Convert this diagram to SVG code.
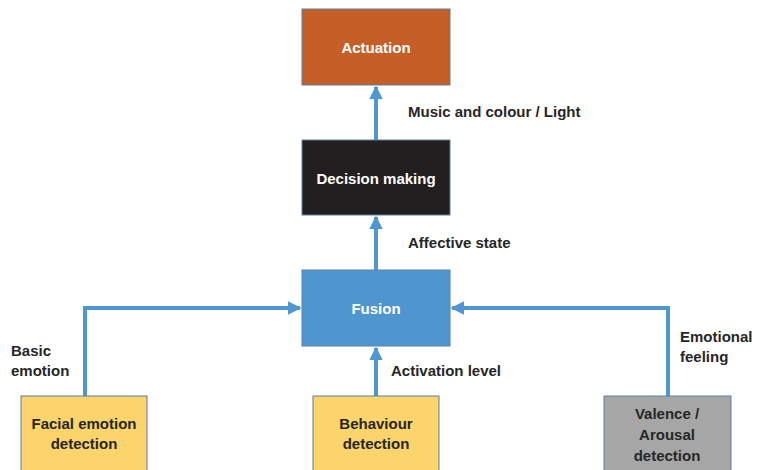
<svg xmlns="http://www.w3.org/2000/svg" width="757" height="470" viewBox="0 0 757 470">
<style>
.box{stroke:#5a7fa6;stroke-width:1}
.nt{font-family:"Liberation Sans",Arial,sans-serif;font-weight:bold;font-size:15px;text-anchor:middle}
.lb{font-family:"Liberation Sans",Arial,sans-serif;font-weight:bold;font-size:15px;fill:#262626}
.c{fill:none;stroke:#5096D2;stroke-width:4}
</style>
<defs>
<marker id="ah" viewBox="0 0 10 10" refX="9" refY="5" markerWidth="3.4" markerHeight="3.4" orient="auto" markerUnits="strokeWidth">
<path d="M0,0 L10,5 L0,10 z" fill="#5096D2"/>
</marker>
</defs>
<rect width="757" height="470" fill="#fff"/>
<g id="connectors">
<path class="c" d="M376,140 V87" marker-end="url(#ah)"/>
<path class="c" d="M376,270 V217" marker-end="url(#ah)"/>
<path class="c" d="M85,396 V308 H300" marker-end="url(#ah)"/>
<path class="c" d="M376,396 V348" marker-end="url(#ah)"/>
<path class="c" d="M668,396 V308 H452" marker-end="url(#ah)"/>
<text class="lb" x="408" y="117">Music and colour / Light</text>
<text class="lb" x="408" y="248">Affective state</text>
<text class="lb" x="391" y="376">Activation level</text>
<text class="lb" x="11" y="356">Basic</text>
<text class="lb" x="11" y="376">emotion</text>
<text class="lb" x="680" y="342">Emotional</text>
<text class="lb" x="680" y="362">feeling</text>
</g>
<g id="actuation">
<rect class="box" x="302" y="9" width="148" height="76" fill="#C55F27"/>
<text class="nt" x="376" y="53" fill="#fff">Actuation</text>
</g>
<g id="decision">
<rect class="box" x="302" y="140" width="148" height="75" fill="#231F20"/>
<text class="nt" x="376" y="184" fill="#fff">Decision making</text>
</g>
<g id="fusion">
<rect class="box" x="302" y="270" width="148" height="76" fill="#4F96D1"/>
<text class="nt" x="376" y="314" fill="#fff">Fusion</text>
</g>
<g id="facial">
<rect class="box" x="21" y="396" width="126" height="80" fill="#FBD46B"/>
<text class="nt" x="84" y="429" fill="#262626">Facial emotion</text>
<text class="nt" x="84" y="449" fill="#262626">detection</text>
</g>
<g id="behaviour">
<rect class="box" x="313" y="396" width="126" height="80" fill="#FBD46B"/>
<text class="nt" x="376" y="429" fill="#262626">Behaviour</text>
<text class="nt" x="376" y="449" fill="#262626">detection</text>
</g>
<g id="valence">
<rect class="box" x="604" y="396" width="127" height="80" fill="#A6A6A6"/>
<text class="nt" x="667" y="419" fill="#262626">Valence /</text>
<text class="nt" x="667" y="440" fill="#262626">Arousal</text>
<text class="nt" x="667" y="461" fill="#262626">detection</text>
</g>
</svg>
